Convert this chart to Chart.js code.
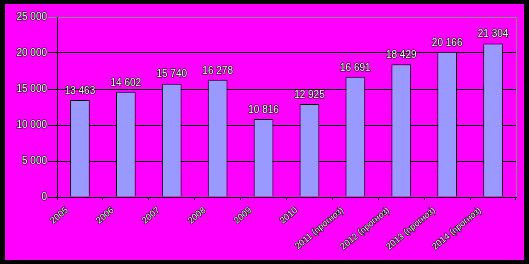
<!DOCTYPE html>
<html>
<head>
<meta charset="utf-8">
<script src="https://cdn.jsdelivr.net/npm/chart.js@4"></script>
<style>
  html, body { margin: 0; padding: 0; background: #000; }
  #wrap { position: absolute; left: 5px; top: 4px; width: 519px; height: 256px; background: #ff00ff; }
</style>
</head>
<body>
<div id="wrap"><canvas id="myChart"></canvas></div>
<script>
const years = ['2005', '2006', '2007', '2008', '2009', '2010',
  '2011 (прогноз)', '2012 (прогноз)', '2013 (прогноз)', '2014 (прогноз)'];
const values = [13463, 14602, 15740, 16278, 10816, 12925, 16691, 18429, 20166, 21304];
const yTicks = [0, 5000, 10000, 15000, 20000, 25000];

const fmt = v => v.toLocaleString('en-US').replace(/,/g, ' ');

// value labels on top of bars + grey border on the right
const barLabels = {
  id: 'barLabels',
  afterDatasetsDraw(chart) {
    const ctx = chart.ctx;
    const meta = chart.getDatasetMeta(0);
    ctx.save();
    ctx.font = '10px "Liberation Sans", Arial, sans-serif';
    ctx.textAlign = 'center';
    ctx.textBaseline = 'bottom';
    ctx.lineJoin = 'round';
    meta.data.forEach((bar, i) => {
      const txt = fmt(values[i]);
      ctx.lineWidth = 1.2;
      ctx.strokeStyle = '#000';
      ctx.strokeText(txt, bar.x, bar.y - 4);
      ctx.fillStyle = '#fff';
      ctx.fillText(txt, bar.x, bar.y - 4);
    });
    const a = chart.chartArea;
    ctx.strokeStyle = '#888';
    ctx.lineWidth = 1;
    ctx.beginPath();
    ctx.moveTo(Math.round(a.right) + 0.5, a.top);
    ctx.lineTo(Math.round(a.right) + 0.5, a.bottom);
    ctx.stroke();
    ctx.restore();
  }
};

const ctx = document.getElementById('myChart').getContext('2d');
new Chart(ctx, {
  type: 'bar',
  data: {
    labels: years,
    datasets: [{
      data: values,
      backgroundColor: '#9999ff',
      borderColor: '#000',
      borderWidth: 1,
      barPercentage: 0.43,
      categoryPercentage: 1
    }]
  },
  options: {
    responsive: true,
    maintainAspectRatio: false,
    animation: false,
    layout: { padding: { top: 13, right: 8, left: 0, bottom: 0 } },
    plugins: { legend: { display: false }, tooltip: { enabled: false } },
    scales: {
      x: {
        afterFit: s => { s.height = 63; },
        border: { color: '#000', width: 1 },
        grid: { drawOnChartArea: false, drawTicks: true, tickLength: 3, color: '#000', offset: true },
        ticks: {
          minRotation: 40,
          maxRotation: 40,
          autoSkip: false,
          padding: 5,
          labelOffset: -13,
          color: '#fff',
          textStrokeColor: '#000',
          textStrokeWidth: 1.2,
          font: { family: '"Liberation Sans", Arial, sans-serif', size: 9 }
        }
      },
      y: {
        min: 0,
        max: 25000,
        afterFit: s => { s.width = 52; },
        afterBuildTicks: s => { s.ticks = yTicks.map(v => ({ value: v })); },
        border: { color: '#000', width: 1 },
        grid: {
          color: c => (c.tick && c.tick.value === 25000 ? '#888' : '#000'),
          tickLength: 9
        },
        ticks: {
          padding: 1,
          color: '#fff',
          textStrokeColor: '#000',
          textStrokeWidth: 1.2,
          font: { family: '"Liberation Sans", Arial, sans-serif', size: 10 },
          callback: v => fmt(v)
        }
      }
    }
  },
  plugins: [barLabels]
});
</script>
</body>
</html>
